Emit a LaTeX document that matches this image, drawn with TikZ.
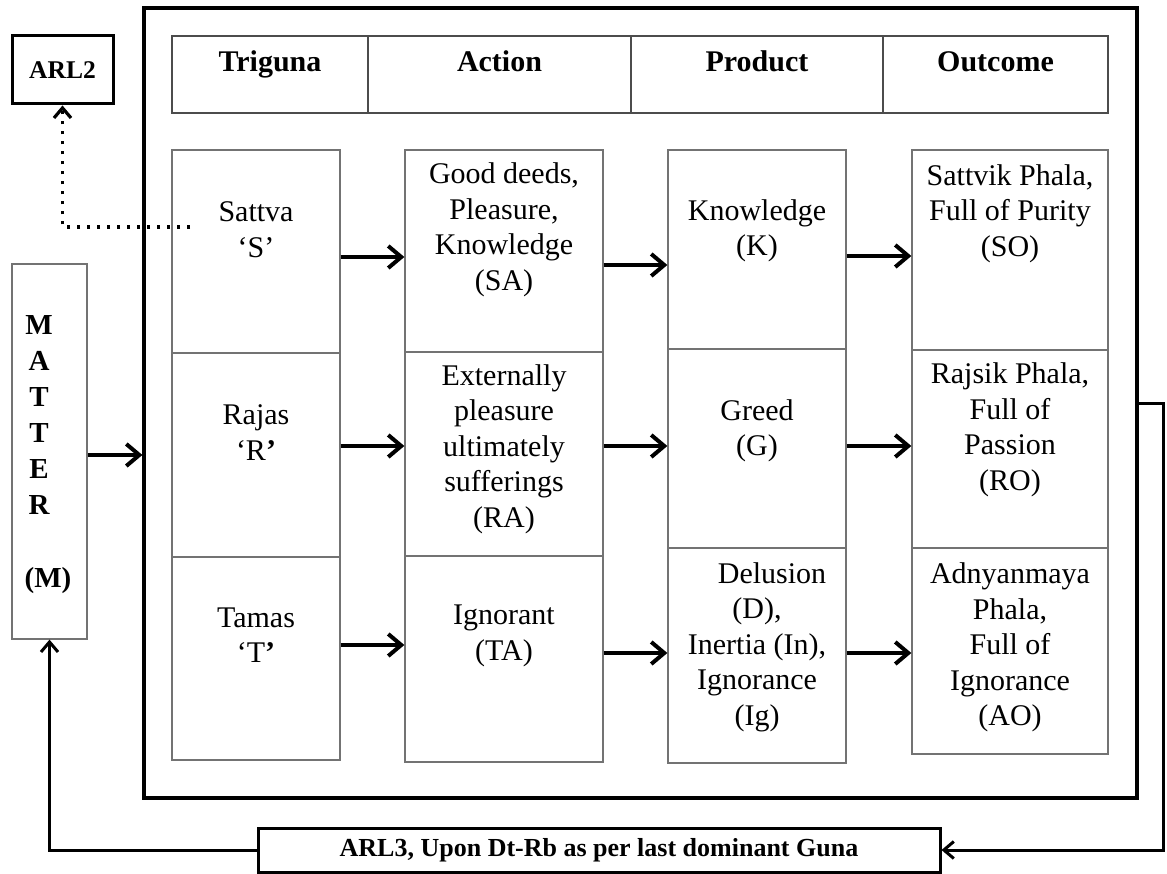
\documentclass[tikz,border=0pt]{standalone}
\usepackage{fontspec}
\setmainfont{Liberation Serif}
\usetikzlibrary{arrows.meta,fit}
\begin{document}
\begin{tikzpicture}[x=1pt,y=-1pt,
  cell/.style={draw=black!55, line width=1.3pt, inner sep=0pt},
  hcell/.style={draw=black!70, line width=1.3pt, inner sep=0pt},
  bigbox/.style={draw=black, line width=3.2pt, inner sep=0pt},
  tagbox/.style={draw=black, line width=3pt, inner sep=0pt, font=\fontsize{25.5}{30}\selectfont\bfseries},
  body/.style={inner sep=0pt, align=center, font=\fontsize{30}{35.5}\selectfont},
  head/.style={inner sep=0pt, anchor=base, font=\fontsize{30}{36}\selectfont\bfseries},
  arr/.style={line width=4pt, -{Straight Barb[length=13pt,width=22pt]}},
  fb/.style={line width=3pt, -{Straight Barb[length=10pt,width=17pt]}},
  dotarr/.style={line width=3.2pt, dash pattern=on 3.2pt off 6.8pt, -{Straight Barb[length=10pt,width=17pt]}}
]
\useasboundingbox (0,0) rectangle (1167,874);

% outer frame
\node[bigbox, fit={(144,8)(1137,798)}] (outer) {};

% header
\node[hcell, fit={(172,36)(368,113)}] (h1) {};
\node[hcell, fit={(368,36)(631,113)}] (h2) {};
\node[hcell, fit={(631,36)(883,113)}] (h3) {};
\node[hcell, fit={(883,36)(1108,113)}] (h4) {};
\node[head] (t1) at (270,72) {Triguna};
\node[head] (t2) at (499.5,72) {Action};
\node[head] (t3) at (757,72) {Product};
\node[head] (t4) at (995.5,72) {Outcome};

% cells
\node[cell, fit={(172,150)(340,353)}] (S) {};
\node[cell, fit={(172,353)(340,557)}] (R) {};
\node[cell, fit={(172,557)(340,760)}] (T) {};
\node[cell, fit={(405,150)(603,352)}] (SA) {};
\node[cell, fit={(405,352)(603,556)}] (RA) {};
\node[cell, fit={(405,556)(603,762)}] (TA) {};
\node[cell, fit={(668,150)(846,349)}] (K) {};
\node[cell, fit={(668,349)(846,548)}] (G) {};
\node[cell, fit={(668,548)(846,763)}] (D) {};
\node[cell, fit={(912,150)(1108,350)}] (SO) {};
\node[cell, fit={(912,350)(1108,548)}] (RO) {};
\node[cell, fit={(912,548)(1108,754)}] (AO) {};

% cell texts
\node[body] (Stx) at (256,229.5) {Sattva\\‘S’};
\node[body] (Rtx) at (256,432.5) {Rajas\\‘R\textbf{’}};
\node[body] (Ttx) at (256,635) {Tamas\\‘T\textbf{’}};
\node[body] (SAtx) at (504,230) {Good deeds,\\Pleasure,\\Knowledge\\(SA)};
\node[body] (RAtx) at (504,449) {Externally\\pleasure\\ultimately\\sufferings\\(RA)};
\node[body] (TAtx) at (504,636) {Ignorant\\(TA)};
\node[body] (Ktx) at (757,231) {Knowledge\\(K)};
\node[body] (Gtx) at (757,431) {Greed\\(G)};
\node[body] (Dtx) at (757,647) {\hspace*{30pt}Delusion\\(D),\\Inertia (In),\\Ignorance\\(Ig)};
\node[body] (SOtx) at (1010,213.5) {Sattvik Phala,\\Full of Purity\\(SO)};
\node[body] (ROtx) at (1010,430) {Rajsik Phala,\\Full of\\Passion\\(RO)};
\node[body] (AOtx) at (1010,647.5) {Adnyanmaya\\Phala,\\Full of\\Ignorance\\(AO)};

% matter
\node[cell, fit={(12,264)(87,639)}] (matter) {};
\node[inner sep=0pt, align=center, font=\fontsize{29}{36}\selectfont\bfseries] (mtx) at (39,415) {M\\A\\T\\T\\E\\R};
\node[inner sep=0pt, font=\fontsize{29}{36}\selectfont\bfseries] (mabbr) at (48,580.5) {(M)};

% tags
\node[tagbox, minimum width=101pt, minimum height=68pt] (arl2) at (62.5,70) {ARL2};
\node[tagbox, minimum width=682pt, minimum height=44pt, font=\fontsize{26}{30}\selectfont\bfseries] (arl3) at (599,850) {ARL3, Upon Dt-Rb as per last dominant Guna};

% main arrows
\draw[arr] (matter.east |- 0,455) -- (outer.west |- 0,455);
\draw[arr] (S.east |- 0,257) -- (SA.west |- 0,257);
\draw[arr] (R.east |- 0,446) -- (RA.west |- 0,446);
\draw[arr] (T.east |- 0,645) -- (TA.west |- 0,645);
\draw[arr] (SA.east |- 0,265) -- (K.west |- 0,265);
\draw[arr] (RA.east |- 0,446) -- (G.west |- 0,446);
\draw[arr] (TA.east |- 0,653) -- (D.west |- 0,653);
\draw[arr] (K.east |- 0,256) -- (SO.west |- 0,256);
\draw[arr] (G.east |- 0,446) -- (RO.west |- 0,446);
\draw[arr] (D.east |- 0,653) -- (AO.west |- 0,653);

% feedback loops
\coordinate (rc) at (1163,403);
\draw[fb] (outer.east |- rc) -- (rc) |- (arl3.east);
\draw[fb] (arl3.west) -| (matter.south);

% dotted link to ARL2
\coordinate (dotstart) at (190,227);
\draw[dotarr] (dotstart) -| (arl2.south);
\end{tikzpicture}
\end{document}
